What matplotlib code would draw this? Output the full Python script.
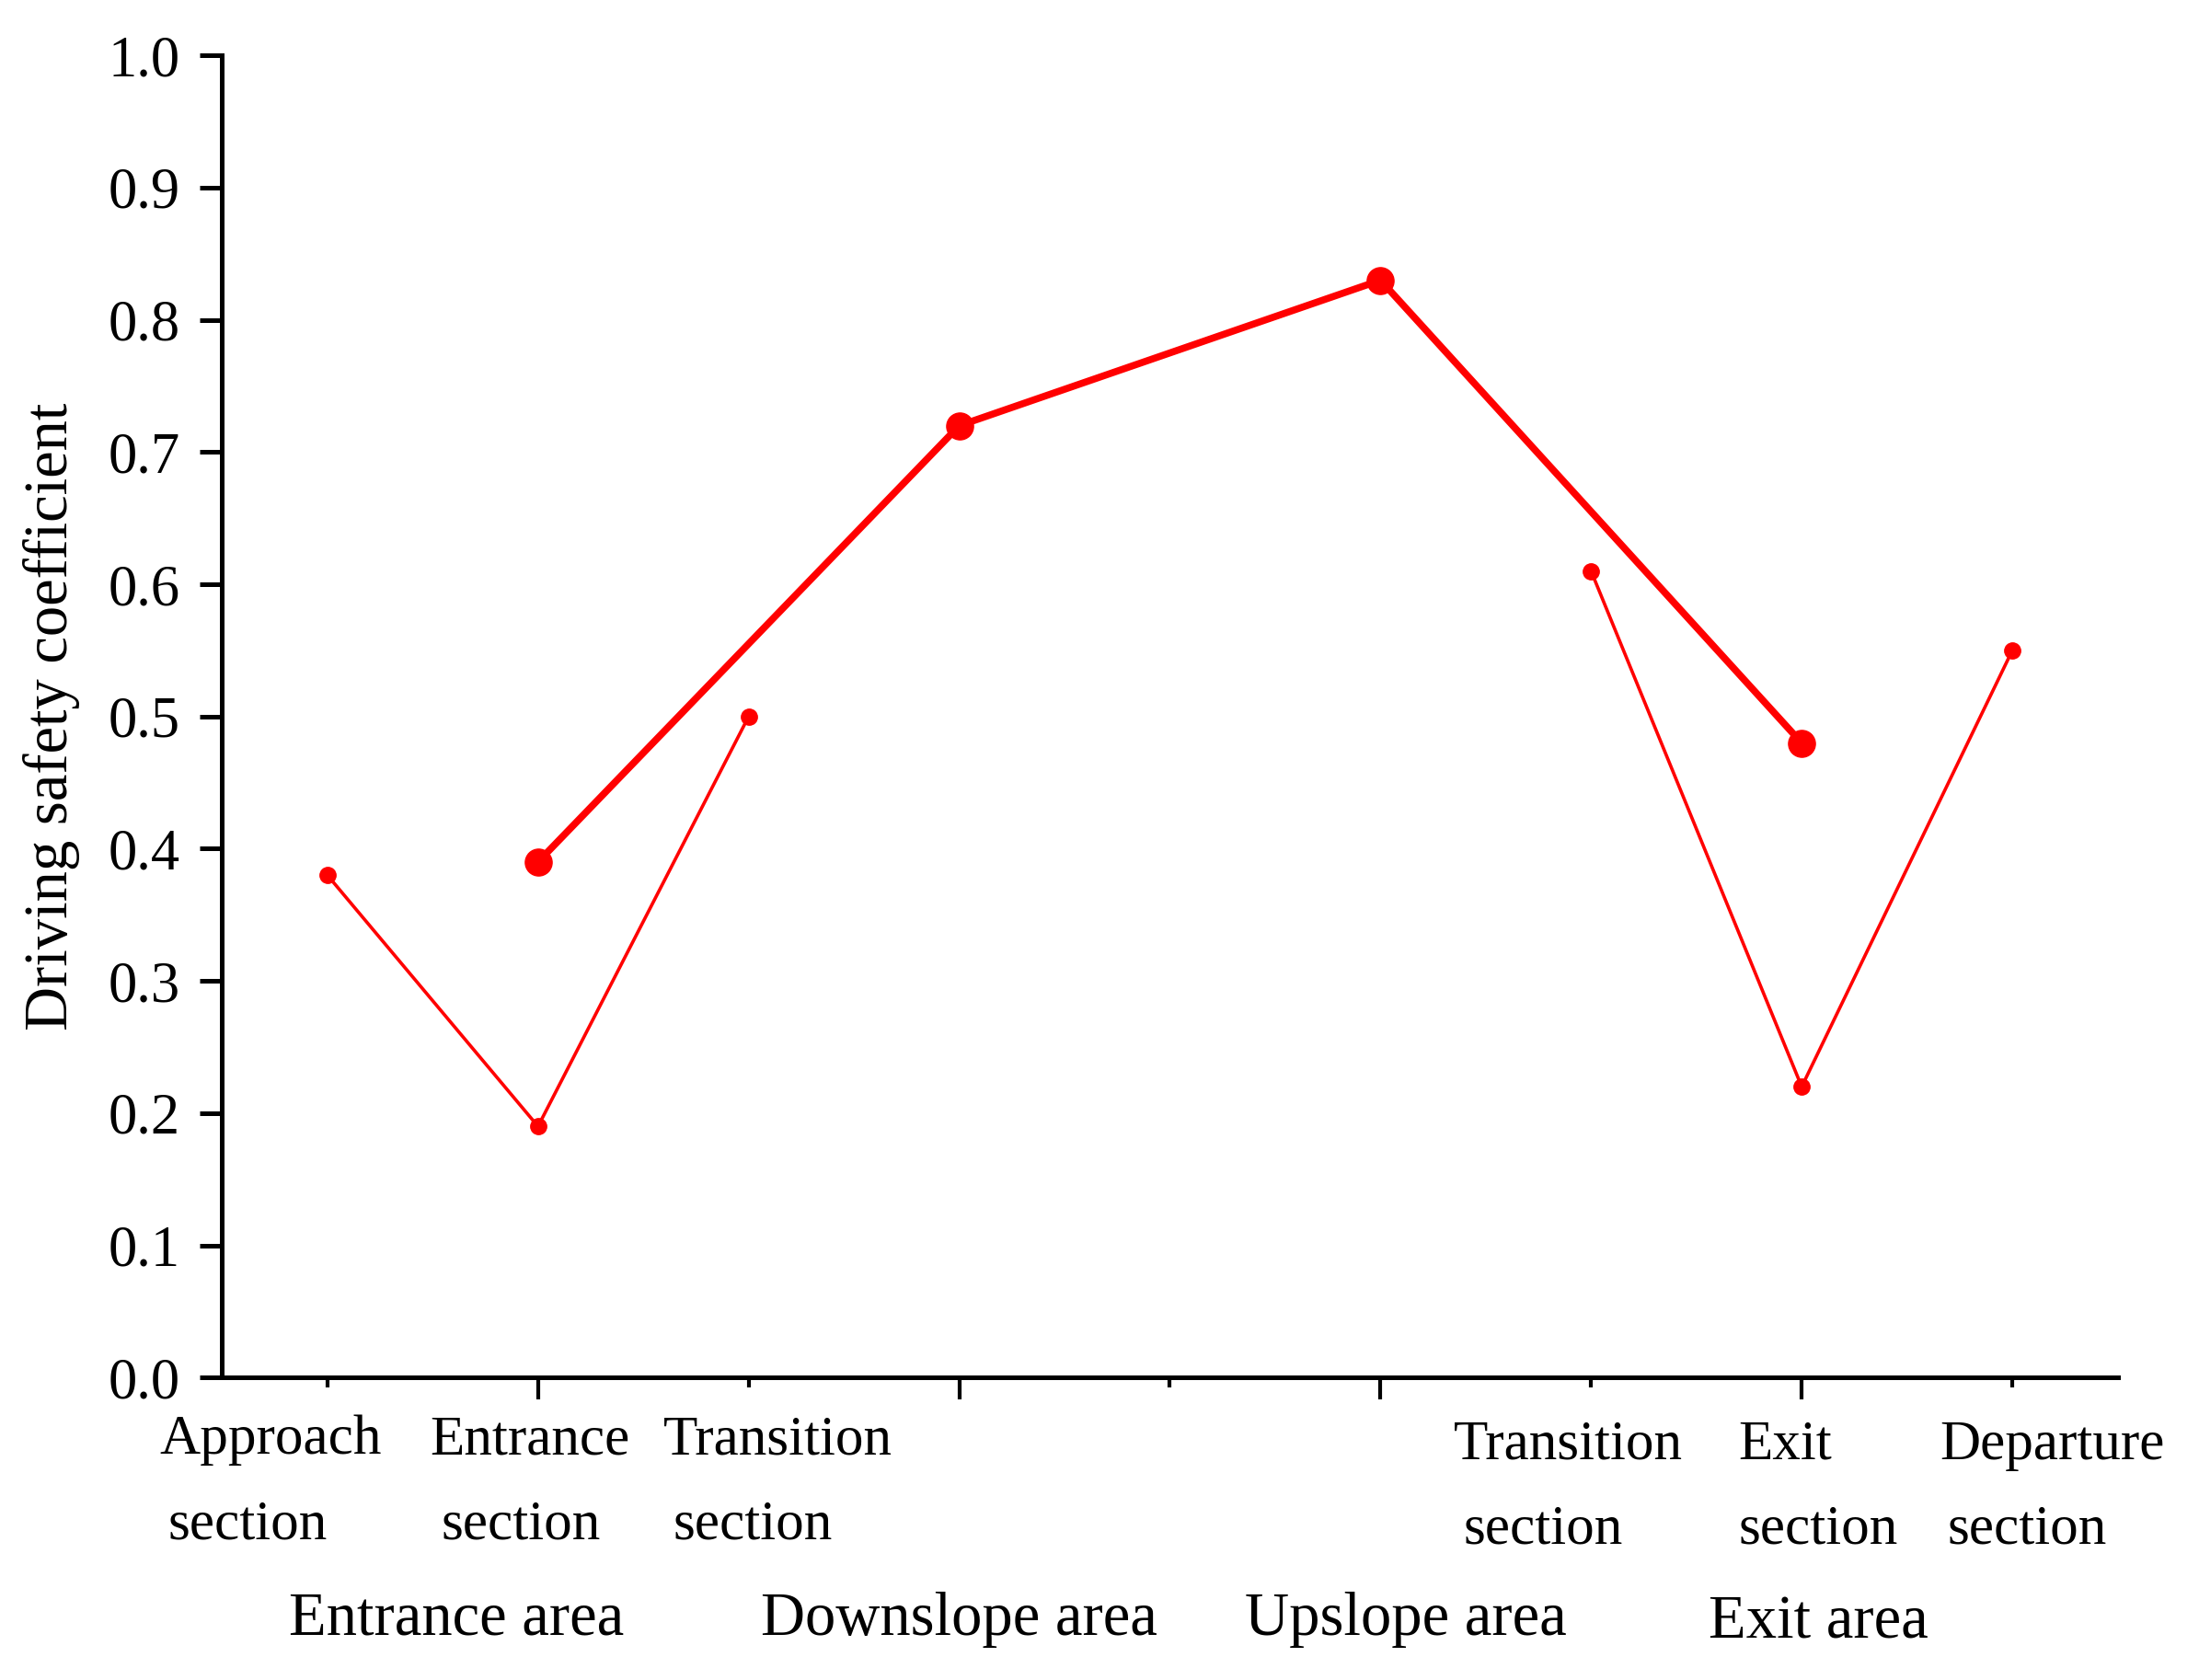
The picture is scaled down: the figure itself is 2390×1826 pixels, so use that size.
import numpy as np
import matplotlib
matplotlib.use("Agg")
import matplotlib.pyplot as plt
import matplotlib.transforms as mtransforms

plt.rcParams['font.family'] = ['Liberation Serif', 'DejaVu Serif']

# data
positions = [1, 2, 3, 4, 5, 6, 7, 8, 9]
section_values = [0.38, 0.19, 0.50, np.nan, np.nan, np.nan, 0.61, 0.22, 0.55]
area_positions = [2, 4, 6, 8]
area_values = [0.39, 0.72, 0.83, 0.48]

section_top = ['Approach', 'Entrance', 'Transition', 'Transition', 'Exit', 'Departure']
section_bottom = ['section', 'section', 'section', 'section', 'section', 'section']
area_names = ['Entrance area', 'Downslope area', 'Upslope area', 'Exit area']
y_ticks = [0.0, 0.1, 0.2, 0.3, 0.4, 0.5, 0.6, 0.7, 0.8, 0.9, 1.0]

# where the label text sits (x in data units)
top_x = [0.73, 1.96, 3.14, 6.89, 7.92, 9.19]
bot_x = [0.62, 1.92, 3.02, 6.77, 8.08, 9.07]
area_x = [1.615, 4.0, 6.12, 8.08]
lab_shift = [0, 0, 0, -0.003, -0.003, -0.003]

fig = plt.figure(figsize=(23.9, 18.26), dpi=100)
ax = fig.add_axes([0.101, 0.180, 0.862, 0.787])

ax.plot(positions, section_values, color='#ff0000', lw=2.6,
        marker='o', ms=12.5, zorder=3)
ax.plot(area_positions, area_values, color='#ff0000', lw=5.5,
        marker='o', ms=21, zorder=4)

ax.set_xlim(0.5, 9.5)
ax.set_ylim(0, 1.0)
ax.set_yticks(y_ticks)
ax.set_yticklabels(['%.1f' % v for v in y_ticks])
ax.set_xticks([2, 4, 6, 8])
ax.set_xticks([1, 3, 5, 7, 9], minor=True)
ax.set_xticklabels([])

for s in ['top', 'right']:
    ax.spines[s].set_visible(False)
for s in ['left', 'bottom']:
    ax.spines[s].set_linewidth(3.6)

ax.tick_params(axis='y', direction='out', length=17, width=3.6, pad=16, labelsize=45)
ax.tick_params(axis='x', which='major', direction='out', length=17, width=3.0)
ax.tick_params(axis='x', which='minor', direction='out', length=8, width=3.0)

ax.set_ylabel('Driving safety coefficient', fontsize=48, labelpad=22)

trans = mtransforms.blended_transform_factory(ax.transData, fig.transFigure)
for i in range(len(section_top)):
    ax.text(top_x[i], 0.1347 + lab_shift[i], section_top[i], transform=trans,
            ha='center', va='baseline', fontsize=44)
    ax.text(bot_x[i], 0.0843 + lab_shift[i], section_bottom[i], transform=trans,
            ha='center', va='baseline', fontsize=44)
for i in range(len(area_names)):
    ax.text(area_x[i], 0.027 - (0.002 if i == 3 else 0), area_names[i], transform=trans,
            ha='center', va='baseline', fontsize=48)

fig.savefig('out.png', dpi=100)
